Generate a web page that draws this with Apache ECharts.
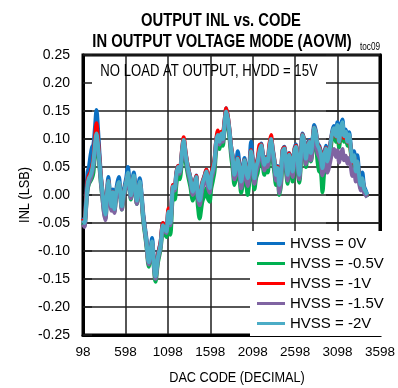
<!DOCTYPE html>
<html>
<head>
<meta charset="utf-8">
<script src="https://cdn.jsdelivr.net/npm/echarts@6/dist/echarts.min.js"></script>
<style>
  html, body { margin: 0; padding: 0; background: #fff; }
  #chart { width: 398px; height: 388px; }
</style>
</head>
<body>
<div id="chart"></div>
<script>
// DAC codes at which INL was sampled
const codes = [
  98, 116, 133, 151, 168, 186, 204, 221, 239, 257,
  274, 292, 309, 327, 345, 362, 380, 397, 415, 433,
  450, 468, 486, 503, 521, 538, 556, 574, 591, 609,
  627, 644, 662, 679, 697, 715, 732, 750, 767, 787,
  806, 826, 846, 873, 893, 912, 932, 952, 982, 1011,
  1041, 1061, 1081, 1105, 1128, 1159, 1179, 1198, 1217, 1237,
  1269, 1284, 1308, 1335, 1363, 1393, 1413, 1433, 1452, 1472,
  1504, 1531, 1551, 1570, 1590, 1610, 1628, 1648, 1668, 1687,
  1707, 1727, 1746, 1766, 1786, 1805, 1825, 1845, 1863, 1883,
  1903, 1922, 1942, 1962, 1981, 2001, 2021, 2039, 2059, 2079,
  2098, 2118, 2138, 2157, 2177, 2197, 2216, 2236, 2256, 2274,
  2294, 2314, 2333, 2353, 2373, 2392, 2412, 2432, 2450, 2470,
  2490, 2509, 2529, 2549, 2568, 2588, 2608, 2627, 2647, 2667,
  2685, 2705, 2725, 2744, 2764, 2784, 2803, 2823, 2843, 2862,
  2882, 2902, 2920, 2940, 2960, 2979, 2999, 3019, 3038, 3058,
  3078, 3096, 3116, 3136, 3155, 3175, 3195, 3214, 3234, 3254,
  3273, 3293, 3313, 3331, 3351, 3371, 3390, 3410, 3430, 3449
];

// INL (LSB) for HVSS = 0V
const inlHvss0 = [
  -0.040, -0.045, -0.010, 0.040, 0.050, 0.070, 0.085, 0.090, 0.120, 0.152,
  0.120, 0.075, 0.035, 0.008, -0.015, -0.030, 0.005, 0.032, 0.005, -0.015,
  0.010, -0.020, 0.005, 0.022, 0.032, 0.010, -0.015, 0.005, 0.018, 0.032,
  0.050, 0.028, 0.005, 0.025, 0.040, 0.015, -0.005, 0.015, 0.030, 0.005,
  -0.030, -0.055, -0.078, -0.115, -0.095, -0.077, -0.115, -0.140, -0.105, -0.085,
  -0.050, -0.058, -0.062, -0.028, -0.045, 0.018, 0.015, 0.040, 0.052, 0.045,
  0.085, 0.100, 0.075, 0.050, 0.032, 0.010, 0.022, 0.035, 0.004, -0.006,
  0.022, 0.035, 0.045, 0.028, 0.016, 0.038, 0.048, 0.062, 0.098, 0.110,
  0.098, 0.112, 0.103, 0.132, 0.155, 0.140, 0.115, 0.085, 0.068, 0.040,
  0.052, 0.078, 0.055, 0.028, 0.045, 0.066, 0.046, 0.035, 0.055, 0.095,
  0.066, 0.035, 0.055, 0.065, 0.082, 0.092, 0.076, 0.058, 0.068, 0.064,
  0.086, 0.102, 0.084, 0.064, 0.040, 0.052, 0.022, 0.040, 0.080, 0.086,
  0.064, 0.040, 0.075, 0.064, 0.046, 0.080, 0.090, 0.064, 0.040, 0.078,
  0.110, 0.098, 0.070, 0.088, 0.098, 0.080, 0.098, 0.125, 0.114, 0.092,
  0.088, 0.076, 0.052, 0.074, 0.088, 0.064, 0.080, 0.098, 0.116, 0.123,
  0.110, 0.130, 0.100, 0.124, 0.135, 0.110, 0.117, 0.100, 0.112, 0.088,
  0.066, 0.078, 0.048, 0.071, 0.042, 0.024, 0.040, 0.016, 0.008, 0.000
];

// INL (LSB) for HVSS = -0.5V
const inlHvss05 = [
  -0.050, -0.055, -0.025, 0.008, 0.020, 0.025, 0.030, 0.040, 0.075, 0.100,
  0.080, 0.050, 0.020, -0.005, -0.030, -0.042, -0.008, 0.018, -0.008, -0.025,
  -0.002, -0.030, -0.008, 0.010, 0.018, -0.002, -0.026, -0.006, 0.006, 0.018,
  0.032, 0.012, -0.008, 0.014, 0.028, 0.004, -0.016, 0.004, 0.018, -0.006,
  -0.044, -0.068, -0.092, -0.128, -0.108, -0.092, -0.128, -0.155, -0.120, -0.098,
  -0.064, -0.070, -0.075, -0.042, -0.071, -0.005, -0.008, 0.018, 0.035, 0.028,
  0.070, 0.088, 0.060, 0.035, 0.015, -0.010, 0.002, 0.015, -0.020, -0.042,
  -0.012, 0.000, 0.012, -0.006, -0.012, 0.012, 0.025, 0.042, 0.080, 0.092,
  0.082, 0.098, 0.088, 0.118, 0.140, 0.125, 0.100, 0.068, 0.045, 0.018,
  0.030, 0.046, 0.030, 0.004, 0.020, 0.040, 0.020, 0.000, 0.025, 0.055,
  0.040, 0.010, 0.030, 0.040, 0.060, 0.070, 0.052, 0.036, 0.048, 0.040,
  0.065, 0.085, 0.062, 0.040, 0.018, 0.030, 0.000, 0.018, 0.060, 0.068,
  0.042, 0.020, 0.055, 0.045, 0.024, 0.060, 0.070, 0.042, 0.022, 0.058,
  0.092, 0.080, 0.050, 0.068, 0.080, 0.060, 0.078, 0.105, 0.090, 0.060,
  0.042, 0.040, 0.005, 0.040, 0.065, 0.045, 0.060, 0.085, 0.105, 0.110,
  0.095, 0.115, 0.085, 0.108, 0.120, 0.095, 0.105, 0.088, 0.100, 0.075,
  0.052, 0.064, 0.036, 0.054, 0.030, 0.012, 0.024, 0.008, 0.002, -0.004
];

// INL (LSB) for HVSS = -1V
const inlHvss1 = [
  -0.042, -0.048, -0.015, 0.025, 0.035, 0.040, 0.050, 0.065, 0.100, 0.128,
  0.100, 0.065, 0.032, 0.005, -0.020, -0.032, 0.000, 0.025, -0.002, -0.018,
  0.005, -0.022, 0.000, 0.014, 0.022, 0.004, -0.020, 0.000, 0.012, 0.024,
  0.038, 0.018, 0.000, 0.018, 0.032, 0.008, -0.012, 0.008, 0.022, -0.002,
  -0.036, -0.060, -0.084, -0.122, -0.102, -0.086, -0.118, -0.142, -0.108, -0.086,
  -0.050, -0.056, -0.062, -0.024, -0.048, 0.018, 0.014, 0.038, 0.052, 0.044,
  0.086, 0.103, 0.075, 0.050, 0.030, 0.008, 0.020, 0.034, 0.002, -0.008,
  0.022, 0.034, 0.045, 0.026, 0.014, 0.040, 0.050, 0.064, 0.098, 0.115,
  0.100, 0.113, 0.113, 0.132, 0.155, 0.140, 0.115, 0.085, 0.066, 0.038,
  0.050, 0.066, 0.050, 0.024, 0.042, 0.062, 0.042, 0.030, 0.050, 0.080,
  0.062, 0.032, 0.052, 0.064, 0.089, 0.090, 0.072, 0.055, 0.066, 0.062,
  0.090, 0.107, 0.082, 0.062, 0.038, 0.050, 0.020, 0.038, 0.080, 0.085,
  0.062, 0.038, 0.074, 0.062, 0.044, 0.080, 0.088, 0.062, 0.038, 0.076,
  0.108, 0.096, 0.066, 0.084, 0.096, 0.076, 0.096, 0.120, 0.110, 0.090,
  0.086, 0.074, 0.050, 0.072, 0.084, 0.062, 0.076, 0.096, 0.112, 0.118,
  0.104, 0.122, 0.094, 0.116, 0.126, 0.102, 0.110, 0.094, 0.106, 0.080,
  0.058, 0.068, 0.040, 0.058, 0.034, 0.016, 0.028, 0.010, 0.004, -0.002
];

// INL (LSB) for HVSS = -1.5V
const inlHvss15 = [
  -0.052, -0.057, -0.028, 0.010, 0.022, 0.028, 0.038, 0.052, 0.082, 0.105,
  0.085, 0.055, 0.022, -0.005, -0.032, -0.045, -0.010, 0.015, -0.010, -0.028,
  -0.004, -0.032, -0.008, 0.008, 0.016, -0.004, -0.026, -0.006, 0.006, 0.018,
  0.034, 0.014, -0.006, 0.014, 0.028, 0.004, -0.016, 0.004, 0.018, -0.004,
  -0.040, -0.064, -0.088, -0.124, -0.104, -0.088, -0.124, -0.150, -0.115, -0.094,
  -0.058, -0.064, -0.068, -0.034, -0.054, 0.010, 0.008, 0.032, 0.046, 0.038,
  0.078, 0.094, 0.068, 0.042, 0.024, 0.000, 0.012, 0.026, -0.006, -0.018,
  0.010, 0.024, 0.032, 0.014, 0.004, 0.028, 0.038, 0.054, 0.090, 0.102,
  0.090, 0.105, 0.095, 0.122, 0.145, 0.132, 0.108, 0.076, 0.056, 0.028,
  0.038, 0.056, 0.040, 0.012, 0.030, 0.050, 0.030, 0.016, 0.036, 0.066,
  0.050, 0.020, 0.040, 0.050, 0.068, 0.080, 0.062, 0.044, 0.056, 0.050,
  0.074, 0.092, 0.070, 0.048, 0.026, 0.036, 0.003, 0.024, 0.066, 0.072,
  0.050, 0.026, 0.060, 0.050, 0.032, 0.066, 0.076, 0.050, 0.028, 0.064,
  0.096, 0.085, 0.055, 0.070, 0.082, 0.062, 0.080, 0.105, 0.095, 0.075,
  0.068, 0.058, 0.035, 0.052, 0.062, 0.040, 0.050, 0.065, 0.078, 0.082,
  0.068, 0.080, 0.058, 0.072, 0.082, 0.062, 0.070, 0.056, 0.066, 0.050,
  0.034, 0.046, 0.024, 0.040, 0.022, 0.008, 0.018, 0.004, 0.000, -0.004
];

// INL (LSB) for HVSS = -2V
const inlHvss2 = [
  -0.045, -0.050, -0.020, 0.018, 0.030, 0.035, 0.045, 0.060, 0.090, 0.110,
  0.090, 0.060, 0.030, 0.005, -0.020, -0.035, 0.000, 0.025, 0.000, -0.020,
  0.005, -0.025, 0.000, 0.015, 0.023, 0.005, -0.020, 0.000, 0.012, 0.025,
  0.040, 0.020, 0.000, 0.020, 0.035, 0.010, -0.010, 0.010, 0.024, 0.000,
  -0.036, -0.060, -0.083, -0.120, -0.100, -0.083, -0.120, -0.145, -0.110, -0.090,
  -0.054, -0.060, -0.065, -0.030, -0.050, 0.015, 0.012, 0.036, 0.050, 0.042,
  0.083, 0.098, 0.072, 0.048, 0.030, 0.006, 0.018, 0.032, 0.000, -0.010,
  0.020, 0.032, 0.042, 0.024, 0.012, 0.036, 0.045, 0.060, 0.095, 0.107,
  0.095, 0.110, 0.100, 0.128, 0.149, 0.137, 0.113, 0.083, 0.065, 0.036,
  0.048, 0.065, 0.050, 0.024, 0.042, 0.062, 0.042, 0.030, 0.048, 0.078,
  0.060, 0.030, 0.050, 0.060, 0.078, 0.089, 0.072, 0.054, 0.065, 0.060,
  0.083, 0.100, 0.080, 0.060, 0.036, 0.048, 0.018, 0.036, 0.078, 0.083,
  0.060, 0.036, 0.072, 0.060, 0.042, 0.078, 0.086, 0.060, 0.036, 0.075,
  0.107, 0.095, 0.065, 0.083, 0.095, 0.075, 0.095, 0.120, 0.110, 0.089,
  0.083, 0.072, 0.048, 0.070, 0.083, 0.060, 0.075, 0.095, 0.113, 0.119,
  0.105, 0.125, 0.095, 0.119, 0.130, 0.105, 0.113, 0.095, 0.108, 0.083,
  0.060, 0.071, 0.042, 0.060, 0.036, 0.018, 0.030, 0.012, 0.006, 0.000
];

// Axis tick labels
const xTickLabels = [98, 598, 1098, 1598, 2098, 2598, 3098, 3598];
const yTickLabels = ['-0.25', '-0.20', '-0.15', '-0.10', '-0.05', '0.00', '0.05', '0.10', '0.15', '0.20', '0.25'];

const seriesNames = ['HVSS = 0V', 'HVSS = -0.5V', 'HVSS = -1V', 'HVSS = -1.5V', 'HVSS = -2V'];
const seriesValues = [inlHvss0, inlHvss05, inlHvss1, inlHvss15, inlHvss2];
const seriesColors = ['#0a6fc2', '#00b050', '#ff0000', '#8064a2', '#4bacc6'];

const FONT = "'Liberation Sans', Arial, sans-serif";
const NARROW = 0.82;   // horizontal squeeze for the condensed lettering
const CODE_START = xTickLabels[0];
const CODE_STEP = xTickLabels[1] - xTickLabels[0];

// split line colour per y tick; the 0.20 line is hidden behind the condition note
const ySplitColors = yTickLabels.map(t => (t === '0.20' ? 'rgba(0,0,0,0)' : '#1e1e1e'));

function label(text, x, y, font, extra) {
  return Object.assign({
    type: 'text', x, y, z: 10, scaleX: NARROW,
    style: { text, fill: '#000', font, textAlign: 'center', textVerticalAlign: 'middle' }
  }, extra || {});
}

const chart = echarts.init(document.getElementById('chart'), null, { renderer: 'canvas' });

chart.setOption({
  animation: false,
  backgroundColor: '#ffffff',
  grid: {
    left: 83, right: 17, top: 55, bottom: 53,
    show: true, borderColor: '#000', borderWidth: 3, backgroundColor: 'transparent'
  },
  graphic: [
    label('OUTPUT INL vs. CODE', 221, 21, 'bold 18px ' + FONT),
    label('IN OUTPUT VOLTAGE MODE (AOVM)', 222, 42, 'bold 18px ' + FONT),
    label('toc09', 370, 47, '10px ' + FONT),
    label('NO LOAD AT OUTPUT, HVDD = 15V', 209, 72, '16px ' + FONT),
    label('DAC CODE (DECIMAL)', 237, 378, '15.5px ' + FONT),
    label('INL (LSB)', 25, 195, '15.5px ' + FONT, { rotation: Math.PI / 2 })
  ],
  legend: {
    orient: 'vertical',
    left: 250, top: 231,
    padding: [5, 8, 5, 7],
    backgroundColor: '#ffffff',
    itemWidth: 28, itemHeight: 3, itemGap: 5,
    icon: 'rect',
    textStyle: { fontFamily: FONT, fontSize: 15, color: '#000', lineHeight: 14 },
    data: seriesNames
  },
  xAxis: {
    type: 'value',
    min: 0, max: xTickLabels[xTickLabels.length - 1] - CODE_START, interval: CODE_STEP,
    axisLine: { show: true, onZero: false, lineStyle: { color: '#000', width: 3 } },
    axisTick: { show: false },
    axisLabel: {
      margin: 10, fontFamily: FONT, fontSize: 13.5, color: '#000',
      formatter: (v, i) => String(xTickLabels[i])
    },
    splitLine: { show: true, lineStyle: { color: '#1e1e1e', width: 1.5 } }
  },
  yAxis: [
    {
      type: 'value', min: -0.25, max: 0.25, interval: 0.05,
      axisLine: { show: true, onZero: false, lineStyle: { color: '#000', width: 3 } },
      axisTick: { show: true, inside: true, length: 9, lineStyle: { color: '#1e1e1e', width: 1.5 } },
      axisLabel: {
        margin: 13, fontFamily: FONT, fontSize: 14, color: '#000',
        formatter: (v, i) => yTickLabels[i]
      },
      splitLine: { show: true, lineStyle: { color: ySplitColors, width: 1.5 } }
    },
    {
      type: 'value', min: -0.25, max: 0.25, interval: 0.05, position: 'right',
      axisLine: { show: true, onZero: false, lineStyle: { color: '#000', width: 3 } },
      axisTick: { show: true, inside: true, length: 54, lineStyle: { color: '#1e1e1e', width: 1.5 } },
      axisLabel: { show: false },
      splitLine: { show: false }
    }
  ],
  series: seriesNames.map((name, k) => ({
    name,
    type: 'line',
    yAxisIndex: 0,
    showSymbol: false,
    smooth: 0.3,
    color: seriesColors[k],
    lineStyle: { width: 4, color: seriesColors[k] },
    data: codes.map((c, i) => [c - CODE_START, seriesValues[k][i]])
  }))
});
</script>
</body>
</html>
